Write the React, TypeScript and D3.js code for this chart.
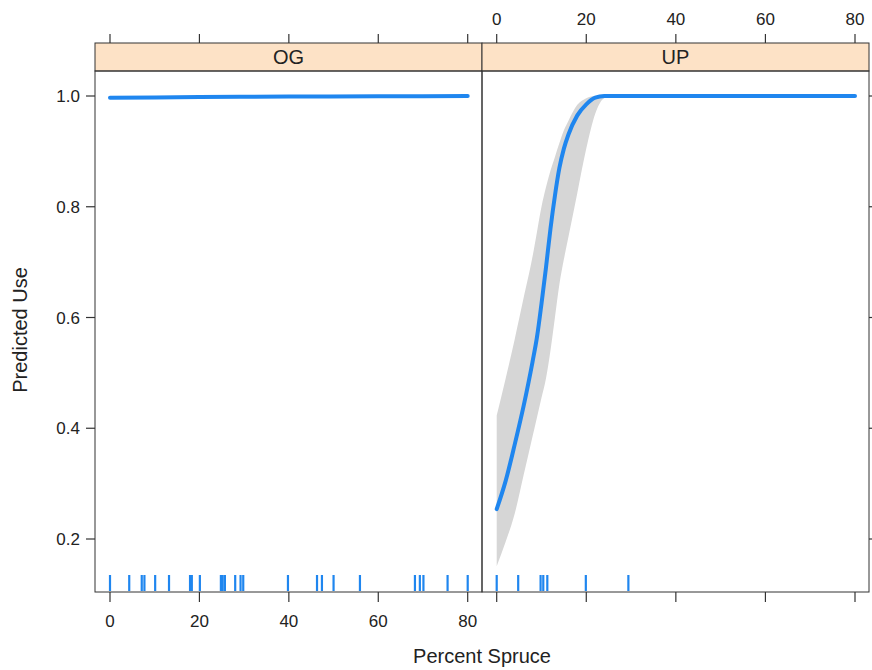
import React from "react";
import * as d3 from "d3";

const panels = ["OG", "UP"];
const xTicks = [0, 20, 40, 60, 80];
const yTicks = [0.2, 0.4, 0.6, 0.8, 1.0];

const ogRug = [0, 4.3, 7.1, 7.7, 10.1, 13.2, 17.9, 18.3, 20.1, 24.8, 25.2, 25.7, 28.0, 29.2, 29.8, 39.8, 46.3, 47.4, 50.0, 55.9, 68.2, 69.3, 70.1, 75.5, 80.0];
const upRug = [0, 4.8, 9.8, 10.4, 11.3, 19.9, 29.4];

const ogX = [0, 20, 40, 60, 80];
const ogFit = [0.997, 0.998, 0.999, 0.9995, 1.0];
const ogLower = [0.995, 0.997, 0.998, 0.999, 0.9995];
const ogUpper = [0.998, 0.999, 0.9995, 1.0, 1.0];

const upX = [0, 2, 4, 6, 8, 9, 10, 11, 12, 13, 14, 15, 16, 18, 20, 22, 24, 26, 30, 40, 60, 80];
const upFit = [0.254, 0.305, 0.37, 0.44, 0.52, 0.565, 0.625, 0.69, 0.76, 0.82, 0.87, 0.905, 0.93, 0.965, 0.985, 0.997, 1.0, 1.0, 1.0, 1.0, 1.0, 1.0];
const upLower = [0.151, 0.195, 0.245, 0.315, 0.385, 0.42, 0.455, 0.49, 0.54, 0.6, 0.66, 0.705, 0.745, 0.825, 0.905, 0.968, 0.996, 1.0, 1.0, 1.0, 1.0, 1.0];
const upUpper = [0.423, 0.49, 0.56, 0.635, 0.71, 0.755, 0.8, 0.835, 0.865, 0.89, 0.915, 0.938, 0.955, 0.984, 0.996, 1.0, 1.0, 1.0, 1.0, 1.0, 1.0, 1.0];

const W = 872, H = 670;
const FONT = "'Liberation Sans', Arial, Helvetica, sans-serif";
const BLUE = "#1f86ef";
const panelTop = 71, panelBottom = 592, stripTop = 43;
const panelEdges = [[95, 482], [482, 869]];
const xRanges = [[110, 467.7], [496.7, 855]];

export default function App() {
  const y = d3.scaleLinear().domain([0.2, 1.0]).range([539, 96]);
  const xs = xRanges.map((r) => d3.scaleLinear().domain([0, 80]).range(r));
  const data = [
    { x: ogX, fit: ogFit, lo: ogLower, hi: ogUpper, rug: ogRug },
    { x: upX, fit: upFit, lo: upLower, hi: upUpper, rug: upRug },
  ];

  return (
    <svg width={W} height={H} style={{ position: "absolute", left: 0, top: 0, background: "#fff" }} fontFamily={FONT}>
      <rect x={0} y={0} width={W} height={H} fill="#fff" />
      {panels.map((name, i) => {
        const x = xs[i];
        const d = data[i];
        const pts = d.x.map((v, k) => ({ x: v, f: d.fit[k], lo: d.lo[k], hi: d.hi[k] }));
        const area = d3.area<any>().x((p) => x(p.x)).y0((p) => y(p.lo)).y1((p) => y(p.hi)).curve(d3.curveMonotoneX);
        const line = d3.line<any>().x((p) => x(p.x)).y((p) => y(p.f)).curve(d3.curveMonotoneX);
        const [l, r] = panelEdges[i];
        return (
          <g key={name}>
            <path d={area(pts) || ""} fill="#d6d6d6" />
            <path d={line(pts) || ""} fill="none" stroke={BLUE} strokeWidth={4} strokeLinecap="round" />
            {d.rug.map((v, k) => (
              <line key={k} x1={x(v)} x2={x(v)} y1={panelBottom - 1} y2={panelBottom - 17} stroke={BLUE} strokeWidth={2.2} />
            ))}
            <rect x={l} y={stripTop} width={r - l} height={panelTop - stripTop} fill="#fde2c6" stroke="#333" strokeWidth={1} />
            <text x={(l + r) / 2} y={(stripTop + panelTop) / 2 + 7} textAnchor="middle" fontSize={20} fill="#222">{name}</text>
            <rect x={l} y={panelTop} width={r - l} height={panelBottom - panelTop} fill="none" stroke="#333" strokeWidth={1} />
            {xTicks.map((t) => (
              <g key={t}>
                <line x1={x(t)} x2={x(t)} y1={stripTop} y2={stripTop - 9} stroke="#333" strokeWidth={1.2} />
                <line x1={x(t)} x2={x(t)} y1={panelBottom} y2={panelBottom + 10} stroke="#333" strokeWidth={1.2} />
                {i === 0 ? (
                  <text x={x(t)} y={627} textAnchor="middle" fontSize={17} fill="#222">{t}</text>
                ) : (
                  <text x={x(t)} y={25} textAnchor="middle" fontSize={17} fill="#222">{t}</text>
                )}
              </g>
            ))}
          </g>
        );
      })}
      {yTicks.map((t) => (
        <g key={t}>
          <line x1={95} x2={86} y1={y(t)} y2={y(t)} stroke="#333" strokeWidth={1.2} />
          <line x1={869} x2={878} y1={y(t)} y2={y(t)} stroke="#333" strokeWidth={1.2} />
          <text x={80} y={y(t) + 6} textAnchor="end" fontSize={17} fill="#222">{t.toFixed(1)}</text>
        </g>
      ))}
      <text x={482} y={663} textAnchor="middle" fontSize={20} fill="#222">Percent Spruce</text>
      <text transform={`translate(27,330) rotate(-90)`} textAnchor="middle" fontSize={20} fill="#222">Predicted Use</text>
    </svg>
  );
}
